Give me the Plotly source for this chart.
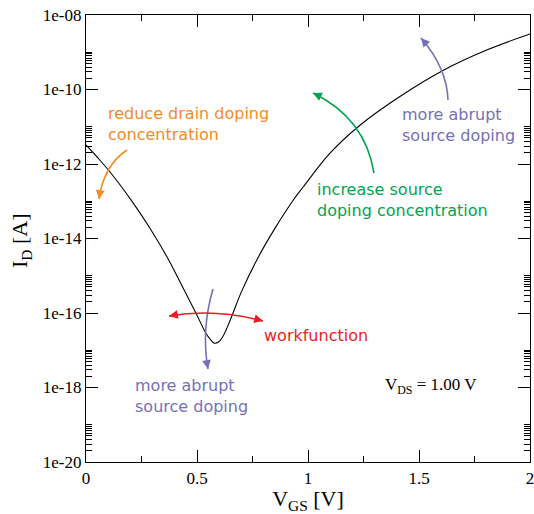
import math
import plotly.graph_objects as go

# ---- data ----
vgs = [0.0, 0.063, 0.108, 0.153, 0.213, 0.288, 0.364, 0.438, 0.495, 0.541,
       0.56, 0.578, 0.597, 0.616, 0.649, 0.701, 0.776, 0.851, 0.934, 0.979,
       1.099, 1.234, 1.414, 1.61, 1.805, 2.0]
id_a = [3.24e-12, 1.26e-12, 6.1e-13, 2.77e-13, 8.9e-14, 1.89e-14, 3.28e-15,
        4.62e-16, 1.0e-16, 2.8e-17, 1.95e-17, 1.55e-17, 1.66e-17, 2.3e-17,
        6.3e-17, 3.8e-16, 3.16e-15, 1.87e-14, 1.08e-13, 2.45e-13, 1.95e-12,
        1.1e-11, 6.5e-11, 3.3e-10, 1.15e-09, 3.1e-09]

x_tickvals = [0, 0.5, 1, 1.5, 2]
x_ticktext = ["0", "0.5", "1", "1.5", "2"]
x_minor = [0.25, 0.75, 1.25, 1.75]
y_tickvals = [1e-20, 1e-18, 1e-16, 1e-14, 1e-12, 1e-10, 1e-08]
y_ticktext = ["1e-20", "1e-18", "1e-16", "1e-14", "1e-12", "1e-10", "1e-08"]
y_minor = [k * base for base in [1e-20, 1e-18, 1e-16, 1e-14, 1e-12, 1e-10]
           for k in range(2, 11)]

# ---- layout geometry ----
W, H = 534, 514
ML, MR, MT, MB = 86, 4, 15, 52
PW, PH = W - ML - MR, H - MT - MB


def pp(px, py):
    """pixel position -> paper coordinates"""
    return (px - ML) / PW, (H - MB - py) / PH


ORANGE = "#f68a1f"
GREEN = "#00a651"
PURPLE = "#7570b8"
RED = "#ec1c24"
SANS = "DejaVu Sans"
SERIF = "Liberation Serif"

fig = go.Figure()
fig.add_trace(go.Scatter(x=vgs, y=id_a, mode="lines",
                         line=dict(color="black", width=1.1, shape="spline", smoothing=1.0),
                         showlegend=False, hoverinfo="skip"))

shapes = []
annotations = []


def curved_arrow(p0, c, p2, color, head_end=True, head_start=False):
    a, b = pp(*p0)
    cx, cy = pp(*c)
    d, e = pp(*p2)
    shapes.append(dict(type="path", xref="paper", yref="paper",
                       path=f"M {a},{b} Q {cx},{cy} {d},{e}",
                       line=dict(color=color, width=1.6)))

    def head(tip, ctrl):
        dx, dy = ctrl[0] - tip[0], ctrl[1] - tip[1]
        n = math.hypot(dx, dy)
        tx, ty = pp(*tip)
        annotations.append(dict(x=tx, y=ty, xref="paper", yref="paper", text="",
                                showarrow=True, ax=10 * dx / n, ay=10 * dy / n,
                                arrowhead=2, arrowsize=1.1, arrowwidth=1.6,
                                arrowcolor=color, standoff=0))
    if head_end:
        head(p2, c)
    if head_start:
        head(p0, c)


curved_arrow((127, 150), (104, 165), (99, 199), ORANGE)
curved_arrow((374, 173), (365, 118), (313, 93), GREEN)
curved_arrow((448, 100), (447, 68), (421, 38), PURPLE)
curved_arrow((213, 289), (201, 330), (208, 369), PURPLE)
curved_arrow((169, 316), (215, 308), (263, 321), RED, head_end=True, head_start=True)


def label(px, py, text, color, font=SANS, size=16):
    x, y = pp(px, py)
    annotations.append(dict(x=x, y=y, xref="paper", yref="paper", text=text,
                            showarrow=False, xanchor="left", yanchor="middle",
                            align="left", font=dict(family=font, size=size, color=color),
                            borderpad=0))


label(107, 124, "reduce drain doping<br>concentration", ORANGE)
label(316, 199.5, "increase source<br>doping concentration", GREEN)
label(401, 124.5, "more abrupt<br>source doping", PURPLE)
label(134, 396, "more abrupt<br>source doping", PURPLE)
label(263, 335.7, "workfunction", RED)
label(384, 386, "V<sub>DS</sub> = 1.00 V", "black", font=SERIF, size=17)

# y-axis title
tx, ty = pp(21, 241)
annotations.append(dict(x=tx, y=ty, xref="paper", yref="paper", text="I<sub>D</sub> [A]",
                        showarrow=False, textangle=-90, xanchor="center", yanchor="middle",
                        font=dict(family=SERIF, size=22, color="black"), borderpad=0))

axis_common = dict(showline=True, linecolor="black", linewidth=1.2, mirror="ticks",
                   ticks="inside", ticklen=12, tickwidth=1, tickcolor="black",
                   showgrid=False, zeroline=False, ticklabeloverflow="allow",
                   automargin=False,
                   tickfont=dict(family=SERIF, size=17, color="black"))

fig.update_layout(
    width=W, height=H,
    margin=dict(l=ML, r=MR, t=MT, b=MB, autoexpand=False),
    paper_bgcolor="white", plot_bgcolor="white",
    showlegend=False,
    xaxis=dict(range=[0, 2], tickmode="array", tickvals=x_tickvals, ticktext=x_ticktext,
               minor=dict(tickmode="array", tickvals=x_minor, ticks="inside", ticklen=6,
                          tickwidth=1, tickcolor="black", showgrid=False),
               title=dict(text="V<sub>GS</sub> [V]", standoff=5,
                          font=dict(family=SERIF, size=22, color="black")),
               **axis_common),
    yaxis=dict(type="log", range=[-20, -8], tickmode="array", tickvals=y_tickvals,
               ticktext=y_ticktext,
               minor=dict(tickmode="array", tickvals=y_minor, ticks="inside", ticklen=6,
                          tickwidth=1, tickcolor="black", showgrid=False),
               **axis_common),
    shapes=shapes,
    annotations=annotations,
)

fig.write_html("out.html")
